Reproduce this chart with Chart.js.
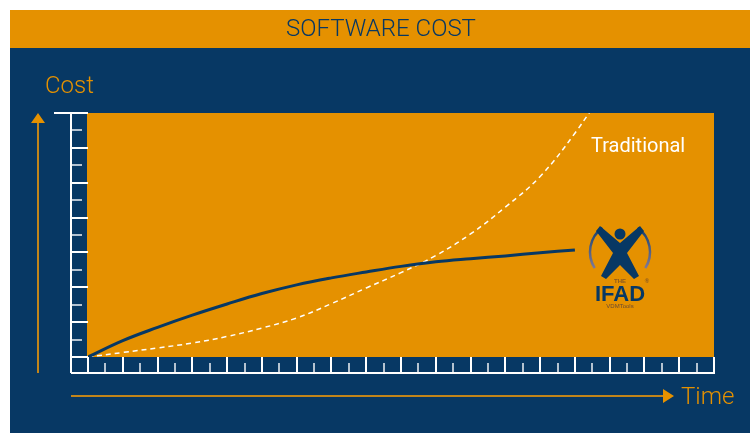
<!DOCTYPE html>
<html>
<head>
<meta charset="utf-8">
<script src="https://cdn.jsdelivr.net/npm/chart.js@4"></script>
<style>
	html, body { margin: 0; padding: 0; background: #fff; }
	#wrap { width: 750px; height: 439px; }
</style>
</head>
<body>
<div id="wrap"><canvas id="softwareCost"></canvas></div>
<script>
// values, x in ruler steps, y in ruler steps
const modernTime = [0, 1, 2, 3, 4, 5, 6, 7, 8, 9, 10, 11, 12, 13, 14];
const modernCost = [0, 0.47, 0.85, 1.2, 1.52, 1.82, 2.07, 2.27, 2.44, 2.6, 2.73, 2.82, 2.9, 2.99, 3.07];
const traditionalTime = [0, 1, 2, 3, 4, 5, 6, 7, 8, 9, 10, 11, 12, 13, 14, 15];
const traditionalCost = [0, 0.13, 0.26, 0.4, 0.59, 0.83, 1.12, 1.53, 1.98, 2.42, 2.91, 3.53, 4.3, 5.18, 6.42, 7.9];
const timeMax = 18;
const costMax = 7;

const titleText = "SOFTWARE COST";
const yAxisLabel = "Cost";
const xAxisLabel = "Time";
const seriesLabel = "Traditional";

const navy = "#073864";
const orange = "#e59100";
const arrowColor = "#c2851a";
const font = "Roboto, 'Liberation Sans', sans-serif";

const slidePlugin = {
	id: "slide",
	beforeDraw(chart) {
		const ctx = chart.ctx;
		const a = chart.chartArea;
		ctx.save();
		ctx.fillStyle = "#fff";
		ctx.fillRect(0, 0, chart.width, chart.height);
		ctx.fillStyle = navy;
		ctx.fillRect(10, 48, chart.width - 10, 385);
		ctx.fillStyle = orange;
		ctx.fillRect(10, 10, chart.width - 10, 38);
		// title
		ctx.fillStyle = navy;
		ctx.font = "300 24px " + font;
		ctx.textAlign = "center";
		ctx.textBaseline = "middle";
		ctx.fillText(titleText, 381, 30);
		// plot background
		ctx.fillStyle = orange;
		ctx.fillRect(a.left - 1, a.top, a.width + 1, a.height);
		ctx.restore();
	},
	afterDraw(chart) {
		const ctx = chart.ctx;
		const a = chart.chartArea;
		const x = chart.scales.x;
		const y = chart.scales.y;
		const rulerX = a.left - 17;
		const rulerY = a.bottom + 16;
		ctx.save();

		// y ruler
		ctx.strokeStyle = "#fff";
		ctx.lineWidth = 2;
		ctx.beginPath();
		ctx.moveTo(rulerX, a.top);
		ctx.lineTo(rulerX, rulerY);
		ctx.moveTo(rulerX - 17, a.top);
		ctx.lineTo(a.left, a.top);
		for (let v = 0; v < costMax; v++) {
			const py = Math.round(y.getPixelForValue(v));
			ctx.moveTo(rulerX, py);
			ctx.lineTo(a.left, py);
		}
		// x ruler
		ctx.moveTo(rulerX, rulerY);
		ctx.lineTo(a.right + 1, rulerY);
		for (let v = 0; v <= timeMax; v++) {
			const px = Math.round(x.getPixelForValue(v));
			ctx.moveTo(px, a.bottom);
			ctx.lineTo(px, rulerY);
		}
		ctx.stroke();

		// half steps
		ctx.strokeStyle = "rgba(255,255,255,0.7)";
		ctx.beginPath();
		for (let v = 0.5; v < costMax; v++) {
			const py = Math.round(y.getPixelForValue(v));
			ctx.moveTo(rulerX, py);
			ctx.lineTo(rulerX + 11, py);
		}
		for (let v = 0.5; v < timeMax; v++) {
			const px = Math.round(x.getPixelForValue(v));
			ctx.moveTo(px, rulerY - 10);
			ctx.lineTo(px, rulerY);
		}
		ctx.stroke();

		// arrows
		ctx.strokeStyle = arrowColor;
		ctx.fillStyle = orange;
		ctx.lineWidth = 2;
		ctx.beginPath();
		ctx.moveTo(38, rulerY);
		ctx.lineTo(38, a.top + 9);
		ctx.moveTo(rulerX, 396);
		ctx.lineTo(664, 396);
		ctx.stroke();
		ctx.beginPath();
		ctx.moveTo(31, a.top + 10);
		ctx.lineTo(45, a.top + 10);
		ctx.lineTo(38, a.top);
		ctx.closePath();
		ctx.moveTo(663, 389);
		ctx.lineTo(663, 403);
		ctx.lineTo(674, 396);
		ctx.closePath();
		ctx.fill();

		// axis names
		ctx.fillStyle = orange;
		ctx.font = "300 24px " + font;
		ctx.textAlign = "left";
		ctx.textBaseline = "alphabetic";
		ctx.fillText(yAxisLabel, 45, 93);
		ctx.fillText(xAxisLabel, 681, 404);

		// series name
		ctx.fillStyle = "#fff";
		ctx.font = "20px " + font;
		ctx.fillText(seriesLabel, 591, 152);

		drawLogo(ctx, 620, 252);
		ctx.restore();
	}
};

function drawLogo(ctx, cx, cy) {
	const ring = ctx.createLinearGradient(0, cy - 28, 0, cy + 28);
	ring.addColorStop(0, "#0b3a6c");
	ring.addColorStop(1, "#a08aa0");
	ctx.strokeStyle = ring;
	ctx.lineWidth = 2.5;
	ctx.beginPath();
	ctx.arc(cx, cy, 30, Math.PI * 0.82, Math.PI * 1.3);
	ctx.stroke();
	ctx.beginPath();
	ctx.arc(cx, cy, 30, -Math.PI * 0.3, Math.PI * 0.18);
	ctx.stroke();

	// figure
	ctx.fillStyle = navy;
	ctx.beginPath();
	ctx.arc(cx, cy - 18, 5.5, 0, Math.PI * 2);
	ctx.fill();
	ctx.beginPath();
	ctx.moveTo(cx - 20, cy - 26);
	ctx.lineTo(cx, cy - 9);
	ctx.lineTo(cx + 20, cy - 26);
	ctx.lineTo(cx + 24, cy - 21);
	ctx.lineTo(cx + 7, cy + 1);
	ctx.lineTo(cx + 19, cy + 24);
	ctx.lineTo(cx + 14, cy + 27);
	ctx.lineTo(cx, cy + 13);
	ctx.lineTo(cx - 14, cy + 27);
	ctx.lineTo(cx - 19, cy + 24);
	ctx.lineTo(cx - 7, cy + 1);
	ctx.lineTo(cx - 24, cy - 21);
	ctx.closePath();
	ctx.fill();

	ctx.textAlign = "center";
	ctx.textBaseline = "alphabetic";
	ctx.fillStyle = "#8a5a20";
	ctx.font = "bold 6px 'Liberation Sans', sans-serif";
	ctx.fillText("THE", cx, cy + 31);
	ctx.fillText("®", cx + 27, cy + 31);
	ctx.fillStyle = navy;
	ctx.font = "bold 22px 'Liberation Sans', sans-serif";
	ctx.fillText("IFAD", cx, cy + 49);
	ctx.fillStyle = "#6b4a30";
	ctx.font = "6px 'Liberation Sans', sans-serif";
	ctx.fillText("VDMTools", cx, cy + 56);
}

new Chart(document.getElementById("softwareCost"), {
	type: "line",
	data: {
		datasets: [
			{
				label: "IFAD",
				data: modernTime.map((t, i) => ({ x: t, y: modernCost[i] })),
				borderColor: navy,
				borderWidth: 3,
				pointRadius: 0,
				tension: 0.4,
			},
			{
				label: seriesLabel,
				data: traditionalTime.map((t, i) => ({ x: t, y: traditionalCost[i] })),
				borderColor: "#fff",
				borderWidth: 1.5,
				borderDash: [5, 4],
				pointRadius: 0,
				tension: 0.4,
			},
		],
	},
	options: {
		responsive: true,
		maintainAspectRatio: false,
		animation: false,
		layout: {
			padding: { left: 88, right: 36, top: 113, bottom: 82 },
		},
		scales: {
			x: { type: "linear", min: 0, max: timeMax, display: false },
			y: { type: "linear", min: 0, max: costMax, display: false },
		},
		plugins: {
			legend: { display: false },
			tooltip: { enabled: false },
		},
	},
	plugins: [slidePlugin],
});
</script>
</body>
</html>
